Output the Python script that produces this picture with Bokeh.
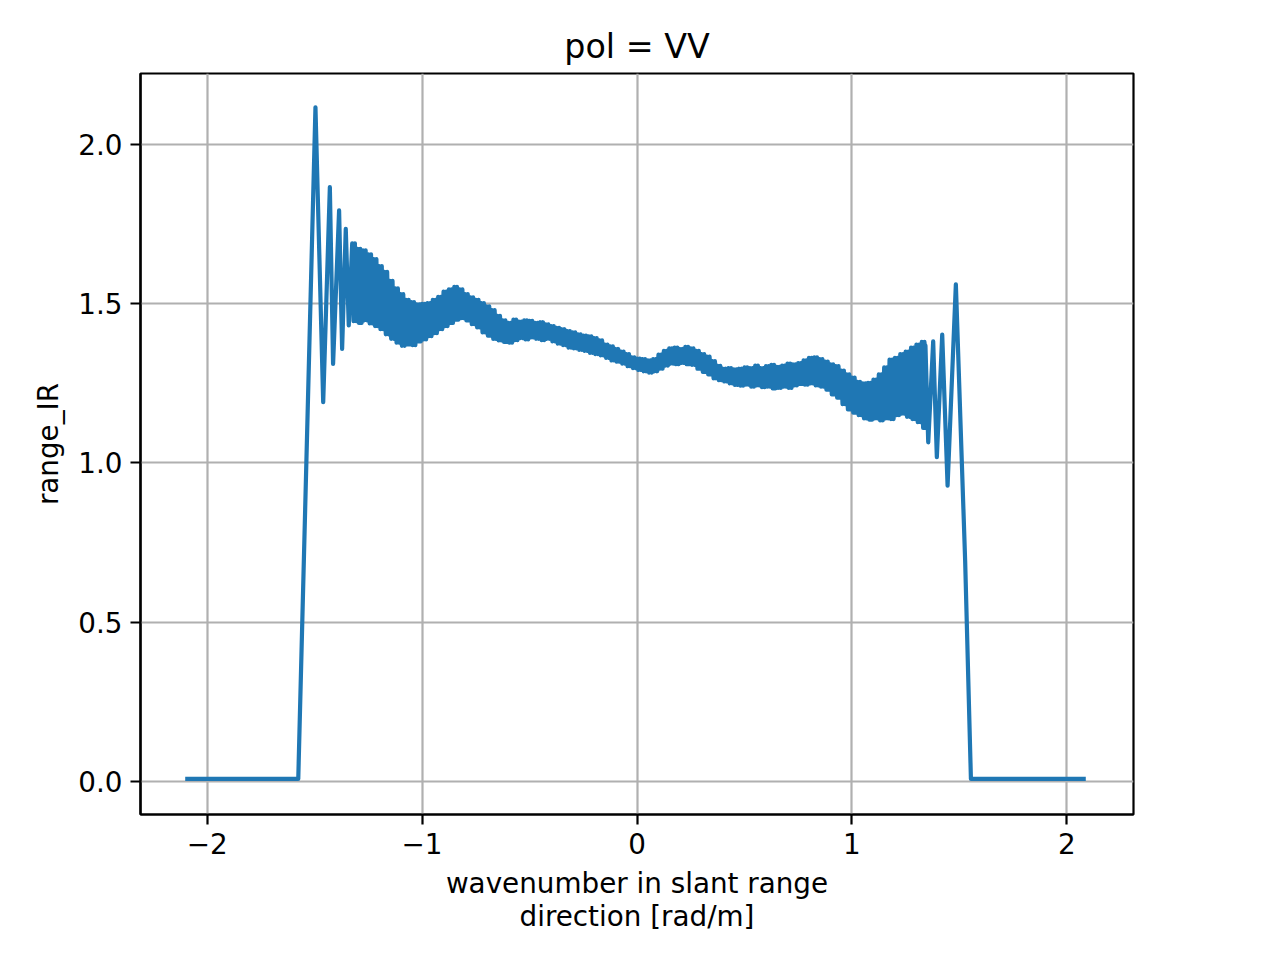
import numpy as np
from bokeh.plotting import figure
from bokeh.models import FixedTicker, CustomJSTickFormatter, ColumnDataSource
from bokeh.embed import file_html
from bokeh.resources import INLINE

# ---- data ----
# left edge: flat floor, steep rise and the resolvable ringing
k_left = [-2.102, -1.576, -1.496, -1.460, -1.429, -1.414, -1.386, -1.372, -1.355, -1.341]
v_left = [0.008, 0.008, 2.117, 1.191, 1.866, 1.311, 1.793, 1.358, 1.735, 1.432]

# dense oscillating band: upper / lower extremes sampled every band_step
band_start = -1.325
band_step = 0.025
band_upper = [
    1.690, 1.672, 1.668, 1.655, 1.640, 1.618, 1.600, 1.572, 1.548, 1.530,
    1.512, 1.505, 1.498, 1.500, 1.502, 1.512, 1.522, 1.538, 1.545, 1.553,
    1.545, 1.530, 1.520, 1.512, 1.502, 1.492, 1.480, 1.462, 1.448, 1.440,
    1.450, 1.444, 1.448, 1.446, 1.440, 1.442, 1.435, 1.430, 1.424, 1.420,
    1.414, 1.410, 1.404, 1.400, 1.398, 1.392, 1.385, 1.372, 1.366, 1.358,
    1.350, 1.342, 1.332, 1.328, 1.326, 1.322, 1.326, 1.340, 1.352, 1.360,
    1.362, 1.358, 1.365, 1.360, 1.352, 1.342, 1.334, 1.320, 1.305, 1.296,
    1.298, 1.294, 1.296, 1.300, 1.298, 1.306, 1.298, 1.304, 1.308, 1.302,
    1.306, 1.312, 1.310, 1.314, 1.322, 1.330, 1.332, 1.326, 1.318, 1.310,
    1.304, 1.290, 1.278, 1.268, 1.255, 1.250, 1.252, 1.262, 1.278, 1.300,
    1.325, 1.330, 1.342, 1.350, 1.362, 1.372, 1.380,
]
band_lower = [
    1.445, 1.440, 1.448, 1.438, 1.430, 1.420, 1.404, 1.390, 1.378, 1.368,
    1.372, 1.370, 1.382, 1.388, 1.398, 1.408, 1.420, 1.430, 1.440, 1.450,
    1.455, 1.448, 1.436, 1.426, 1.410, 1.400, 1.390, 1.385, 1.380, 1.378,
    1.386, 1.392, 1.388, 1.394, 1.390, 1.386, 1.390, 1.382, 1.375, 1.370,
    1.362, 1.360, 1.355, 1.352, 1.346, 1.342, 1.338, 1.330, 1.322, 1.318,
    1.312, 1.304, 1.298, 1.292, 1.288, 1.284, 1.288, 1.296, 1.306, 1.312,
    1.310, 1.314, 1.310, 1.308, 1.296, 1.286, 1.278, 1.266, 1.260, 1.256,
    1.250, 1.245, 1.243, 1.246, 1.240, 1.244, 1.238, 1.240, 1.234, 1.236,
    1.240, 1.236, 1.244, 1.248, 1.246, 1.250, 1.244, 1.240, 1.230, 1.215,
    1.205, 1.185, 1.168, 1.158, 1.150, 1.140, 1.136, 1.140, 1.134, 1.140,
    1.138, 1.150, 1.155, 1.145, 1.138, 1.128, 1.110,
]
# oscillation cycles drawn per band sample
band_cycles = 2

# right edge: ringing, big peak, steep fall and flat floor
k_right = [1.342, 1.355, 1.378, 1.395, 1.420, 1.445, 1.4835, 1.5267, 1.5536, 2.088]
v_right = [1.369, 1.065, 1.382, 1.018, 1.403, 0.929, 1.561, 0.694, 0.008, 0.008]

x_ticks = [-2, -1, 0, 1, 2]
y_ticks = [0.0, 0.5, 1.0, 1.5, 2.0]

# ---- assemble the single line (band alternates upper / lower samples) ----
n = min(len(band_upper), len(band_lower))
m = 2 * band_cycles
kb, vb = [], []
for i in range(n):
    for j in range(m):
        kb.append(band_start + band_step * (i + j / m))
        vb.append(band_upper[i] if j % 2 == 0 else band_lower[i])

k_all = np.concatenate([k_left, kb, k_right])
v_all = np.concatenate([v_left, vb, v_right])
src = ColumnDataSource(dict(k=k_all, v=v_all))

FONT = "DejaVu Sans"
FS = "27.8px"

p = figure(width=1275, height=955, x_range=(-2.31, 2.31), y_range=(-0.1036, 2.2229),
           output_backend="svg", toolbar_location=None)
p.min_border_left = 140
p.min_border_right = 142
p.min_border_top = 73
p.min_border_bottom = 141
p.background_fill_color = "white"
p.border_fill_color = "white"
p.outline_line_color = "black"
p.outline_line_width = 2.2

p.line("k", "v", source=src, line_color="#1f77b4", line_width=4.2, line_join="round")

p.xaxis.ticker = FixedTicker(ticks=x_ticks)
p.yaxis.ticker = FixedTicker(ticks=y_ticks)
p.xgrid.ticker = FixedTicker(ticks=x_ticks)
p.ygrid.ticker = FixedTicker(ticks=y_ticks)
p.xaxis.formatter = CustomJSTickFormatter(
    code="return tick < 0 ? '\u2212' + Math.abs(tick).toFixed(0) : tick.toFixed(0);")
p.yaxis.formatter = CustomJSTickFormatter(code="return tick.toFixed(1);")

for g in (p.xgrid, p.ygrid):
    g.grid_line_color = "#b0b0b0"
    g.grid_line_width = 2.2

for ax in (p.xaxis, p.yaxis):
    ax.axis_line_color = "black"
    ax.axis_line_width = 2.2
    ax.major_tick_line_color = "black"
    ax.major_tick_line_width = 2.2
    ax.major_tick_out = 10
    ax.major_tick_in = 0
    ax.minor_tick_line_color = None
    ax.major_label_text_font = FONT
    ax.major_label_text_font_size = FS
    ax.major_label_text_color = "black"
    ax.major_label_standoff = 8
    ax.axis_label_text_font = FONT
    ax.axis_label_text_font_size = FS
    ax.axis_label_text_font_style = "normal"
    ax.axis_label_text_color = "black"
    ax.axis_label_standoff = 10

p.xaxis.axis_label = "wavenumber in slant range\ndirection [rad/m]"
p.xaxis.axis_label_text_line_height = 1.0
p.yaxis.axis_label = "range_IR"

p.title.text = "pol = VV"
p.title.align = "center"
p.title.text_font = FONT
p.title.text_font_size = "33.3px"
p.title.text_font_style = "normal"
p.title.text_color = "black"
p.title.standoff = 16

open("out.html", "w").write(file_html(p, INLINE))
